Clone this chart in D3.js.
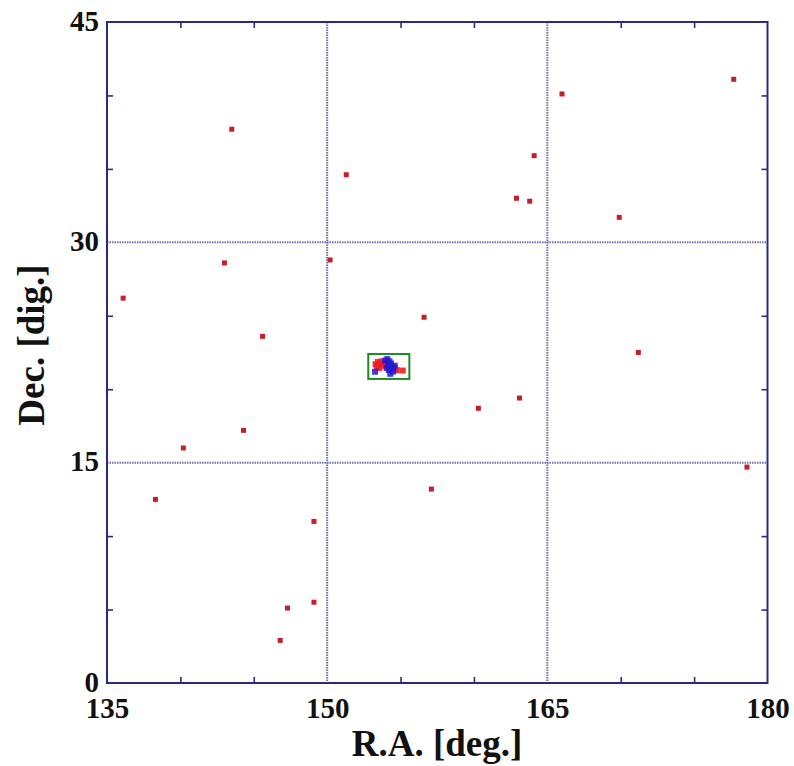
<!DOCTYPE html>
<html>
<head>
<meta charset="utf-8">
<script src="https://cdn.jsdelivr.net/npm/d3@7"></script>
<style>
  html, body { margin: 0; padding: 0; background: #fff; }
  svg { display: block; }
  text { font-family: "Liberation Serif", "Times New Roman", serif; font-weight: bold; fill: #111; }
</style>
</head>
<body>
<svg id="chart" width="794" height="766"></svg>
<script>
// Field sources (R.A., Dec. in degrees)
const fieldRA  = [136.1, 138.3, 140.2, 143.0, 143.5, 144.3, 145.6, 146.8, 147.3, 149.1, 149.1, 150.2, 151.3,
                  156.6, 157.1, 160.3, 162.9, 163.1, 163.8, 164.1, 166.0, 169.9, 171.2, 177.7, 178.6];
const fieldDec = [26.2, 12.5, 16.0, 28.6, 37.7, 17.2, 23.6, 2.9, 5.1, 11.0, 5.5, 28.8, 34.6,
                  24.9, 13.2, 18.7, 33.0, 19.4, 32.8, 35.9, 40.1, 31.7, 22.5, 41.1, 14.7];

// Cluster members, red sample
const redRA  = [153.3, 153.45, 153.6, 153.4, 153.75, 153.55, 153.9, 154.05, 154.6, 154.75, 155.15, 153.7];
const redDec = [21.7, 21.85, 21.75, 21.5, 21.6, 21.45, 21.8, 21.55, 21.45, 21.3, 21.27, 21.9];

// Cluster members, blue sample
const blueRA  = [153.95, 154.1, 154.25, 154.15, 154.35, 154.45, 154.2, 154.5, 154.05, 154.3, 153.26, 154.6];
const blueDec = [21.95, 22.05, 21.9, 21.65, 21.75, 21.45, 21.3, 21.2, 21.45, 21.05, 21.19, 21.6];

// Highlighted region (R.A. min/max, Dec. min/max)
const boxRA  = [152.8, 155.6];
const boxDec = [20.7, 22.4];

const xTicks = [135, 150, 165, 180];
const yTicks = [0, 15, 30, 45];
const xMinor = [140, 145, 155, 160, 170, 175];
const yMinor = [5, 10, 20, 25, 35, 40];

const svg = d3.select("#chart");
const L = 107, R = 767.5, T = 22, B = 683;
const frameColor = "#2a2a86";

const x = d3.scaleLinear().domain([135, 180]).range([L, R]);
const y = d3.scaleLinear().domain([0, 45]).range([B, T]);

// grid lines at the labelled values
const grid = svg.append("g");
grid.selectAll("line.gx").data(xTicks.slice(1, -1)).join("line")
  .attr("x1", d => x(d)).attr("x2", d => x(d)).attr("y1", T).attr("y2", B)
  .attr("stroke", "#6f6fab").attr("stroke-width", 2).attr("stroke-dasharray", "1.5,1");
grid.selectAll("line.gy").data(yTicks.slice(1, -1)).join("line")
  .attr("y1", d => y(d)).attr("y2", d => y(d)).attr("x1", L).attr("x2", R)
  .attr("stroke", "#6f6fab").attr("stroke-width", 2).attr("stroke-dasharray", "1.5,1");

// inward minor ticks on all four sides
function styleAxis(g) {
  g.select(".domain").remove();
  g.selectAll(".tick line").attr("stroke", frameColor).attr("stroke-width", 1.6);
  g.selectAll(".tick text").remove();
}
svg.append("g").attr("transform", `translate(0,${B})`)
  .call(d3.axisBottom(x).tickValues(xMinor).tickSize(-6)).call(styleAxis);
svg.append("g").attr("transform", `translate(0,${T})`)
  .call(d3.axisTop(x).tickValues(xMinor).tickSize(-6)).call(styleAxis);
svg.append("g").attr("transform", `translate(${L},0)`)
  .call(d3.axisLeft(y).tickValues(yMinor).tickSize(-6)).call(styleAxis);
svg.append("g").attr("transform", `translate(${R},0)`)
  .call(d3.axisRight(y).tickValues(yMinor).tickSize(-6)).call(styleAxis);

// tick labels
const labelFont = 29;
const xl = svg.append("g").attr("transform", `translate(0,${B})`)
  .call(d3.axisBottom(x).tickValues(xTicks).tickSize(0).tickPadding(0).tickFormat(d3.format("d")));
xl.select(".domain").remove();
xl.selectAll("text").attr("font-size", labelFont).attr("fill", "#111")
  .attr("font-family", "Liberation Serif, serif").attr("font-weight", "bold")
  .attr("dy", null).attr("y", 35);

const yl = svg.append("g").attr("transform", `translate(${L},0)`)
  .call(d3.axisLeft(y).tickValues(yTicks).tickSize(0).tickPadding(0).tickFormat(d3.format("d")));
yl.select(".domain").remove();
yl.selectAll("text").attr("font-size", labelFont).attr("fill", "#111")
  .attr("font-family", "Liberation Serif, serif").attr("font-weight", "bold")
  .attr("dy", null).attr("x", -8).attr("y", 8);

// frame
svg.append("rect").attr("x", L).attr("y", T).attr("width", R - L).attr("height", B - T)
  .attr("fill", "none").attr("stroke", frameColor).attr("stroke-width", 2);

// field sources
const sq = 5;
svg.append("g").selectAll("rect").data(fieldRA.map((r, i) => [r, fieldDec[i]])).join("rect")
  .attr("x", d => x(d[0]) - sq / 2).attr("y", d => y(d[1]) - sq / 2)
  .attr("width", sq).attr("height", sq).attr("fill", "#c4202a");

// cluster members
const cq = 6;
svg.append("g").selectAll("rect").data(redRA.map((r, i) => [r, redDec[i]])).join("rect")
  .attr("x", d => x(d[0]) - cq / 2).attr("y", d => y(d[1]) - cq / 2)
  .attr("width", cq).attr("height", cq).attr("fill", "#ee1c24").attr("fill-opacity", 0.9);
svg.append("g").selectAll("rect").data(blueRA.map((r, i) => [r, blueDec[i]])).join("rect")
  .attr("x", d => x(d[0]) - cq / 2).attr("y", d => y(d[1]) - cq / 2)
  .attr("width", cq).attr("height", cq).attr("fill", "#2418d0").attr("fill-opacity", 0.85);

// highlighted region
svg.append("rect")
  .attr("x", x(boxRA[0])).attr("y", y(boxDec[1]))
  .attr("width", x(boxRA[1]) - x(boxRA[0])).attr("height", y(boxDec[0]) - y(boxDec[1]))
  .attr("fill", "none").attr("stroke", "#1f8a1f").attr("stroke-width", 2);

// axis titles
svg.append("text").attr("x", 437).attr("y", 756).attr("text-anchor", "middle")
  .attr("font-size", 37).text("R.A. [deg.]");
svg.append("text").attr("transform", `translate(44,345) rotate(-90)`)
  .attr("text-anchor", "middle").attr("font-size", 37).text("Dec. [dig.]");
</script>
</body>
</html>
